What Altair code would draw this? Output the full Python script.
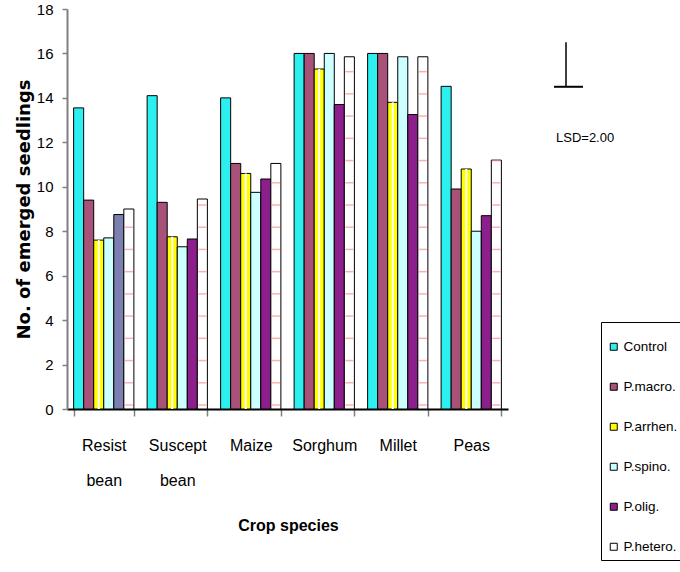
import altair as alt
import pandas as pd

# Crop species on the x axis and treatment series
crops = ["Resist bean", "Suscept bean", "Maize", "Sorghum", "Millet", "Peas"]
series = ["Control", "P.macro.", "P.arrhen.", "P.spino.", "P.olig.", "P.hetero."]

# Mean number of emerged seedlings per crop, one list per treatment
control = [13.55, 14.1, 14.0, 16.0, 16.0, 14.52]
p_macro = [9.4, 9.3, 11.05, 16.0, 16.0, 9.9]
p_arrhen = [7.6, 7.75, 10.6, 15.3, 13.8, 10.8]
p_spino = [7.7, 7.3, 9.75, 16.0, 15.85, 8.0]
p_olig = [8.75, 7.65, 10.35, 13.7, 13.25, 8.7]
p_hetero = [9.0, 9.45, 11.05, 15.85, 15.85, 11.2]

colors = ["#2CF0F0", "#A8527A", "#FFFF00", "#CCFFFF", "#8C1F8C", "#FFFFFF"]

# Least significant difference bar
lsd = [2.0]
lsd_base = [14.5]

FONT = "Liberation Sans Narrow, Arial Narrow, Liberation Sans, Arial, sans-serif"

rows = []
for s, vals in zip(series, [control, p_macro, p_arrhen, p_spino, p_olig, p_hetero]):
    for c, v in zip(crops, vals):
        rows.append({"crop": c, "series": s, "value": v})
df = pd.DataFrame(rows)

lsd_df = pd.DataFrame({"lsd": lsd, "base": lsd_base})

x_enc = alt.X(
    "crop:N",
    sort=crops,
    scale=alt.Scale(paddingInner=0.18, paddingOuter=0.09),
    axis=alt.Axis(
        title="Crop species",
        titleFont=FONT,
        titleFontSize=16,
        titleFontWeight="bold",
        titleColor="black",
        titleX=221,
        titleY=116,
        titleBaseline="middle",
        labelExpr="split(datum.label, ' ')",
        labelFont=FONT,
        labelFontSize=16,
        labelColor="black",
        labelLineHeight=35,
        labelBaseline="top",
        labelPadding=21,
        labelAngle=0,
        tickBand="extent",
        tickSize=7,
        tickColor="#808080",
        tickWidth=1.5,
        domainColor="black",
        domainWidth=2,
    ),
)

y_scale = alt.Scale(domain=[0, 18], nice=False)

bars = alt.Chart(df).mark_bar(stroke="black", strokeWidth=1).encode(
    x=x_enc,
    xOffset=alt.XOffset("series:N", sort=series, scale=alt.Scale(paddingInner=0, paddingOuter=0)),
    y=alt.Y(
        "value:Q",
        scale=y_scale,
        axis=alt.Axis(
            title="No. of emerged seedlings",
            titleFont="DejaVu Sans",
            titleFontSize=18,
            titleFontWeight="bold",
            titleColor="black",
            titleX=-43,
            titleY=200,
            titleBaseline="middle",
            values=list(range(0, 19, 2)),
            labelFont=FONT,
            labelFontSize=15,
            labelColor="black",
            labelPadding=9,
            tickSize=5,
            tickColor="#808080",
            tickWidth=1.5,
            domainColor="#808080",
            domainWidth=2,
            grid=False,
        ),
    ),
    color=alt.condition(
        "datum.crop === 'Resist bean' && datum.series === 'P.olig.'",
        alt.value("#7C80B0"),
        alt.Color(
            "series:N",
            sort=series,
            scale=alt.Scale(domain=series, range=colors),
            legend=alt.Legend(
                orient="none",
                legendX=534,
                legendY=313,
                title=" ",
                titleFontSize=2,
                titlePadding=10,
                padding=6,
                strokeColor="black",
                symbolType="square",
                symbolSize=49,
                symbolStrokeColor="black",
                symbolStrokeWidth=1,
                labelFont=FONT,
                labelFontSize=13.5,
                labelColor="black",
                labelOffset=3,
                rowPadding=25,
            ),
        ),
    ),
)

# White centre stripe inside the P.arrhen. bars
arrhen_stripe = (
    alt.Chart(df)
    .transform_filter("datum.series === 'P.arrhen.'")
    .mark_bar(width=2, color="white")
    .encode(
        x=alt.X("crop:N", sort=crops),
        xOffset=alt.XOffset("series:N", sort=series),
        y=alt.Y("value:Q", scale=y_scale),
    )
)

# Pink cross lines inside the P.hetero. bars
stripes = (
    alt.Chart(df)
    .transform_filter("datum.series === 'P.hetero.'")
    .transform_calculate(stripe="sequence(0.18, datum.value, 1)")
    .transform_flatten(["stripe"])
    .mark_tick(orient="horizontal", size=8, thickness=1.5, color="#FF8C8C")
    .encode(
        x=alt.X("crop:N", sort=crops),
        xOffset=alt.XOffset("series:N", sort=series),
        y=alt.Y("stripe:Q", scale=y_scale),
    )
)

lsd_vert = alt.Chart(lsd_df).transform_calculate(top="datum.base + datum.lsd").mark_rule(
    color="black", strokeWidth=1.5
).encode(
    x=alt.value(499),
    y=alt.Y("base:Q", scale=y_scale),
    y2="top:Q",
)

lsd_horiz = alt.Chart(lsd_df).mark_rule(color="black", strokeWidth=2).encode(
    x=alt.value(487),
    x2=alt.value(516),
    y=alt.Y("base:Q", scale=y_scale),
)

lsd_text = alt.Chart(lsd_df).transform_calculate(
    label="'LSD=' + format(datum.lsd, '.2f')"
).mark_text(
    align="left", baseline="middle", font=FONT, fontSize=13, color="black"
).encode(
    x=alt.value(489),
    y=alt.value(129),
    text="label:N",
)

chart = (
    alt.layer(bars, arrhen_stripe, stripes, lsd_vert, lsd_horiz, lsd_text)
    .properties(
        width=441,
        height=400,
        autosize=alt.AutoSizeParams(type="none"),
        padding={"left": 67, "top": 9, "right": 172, "bottom": 163},
        background="white",
    )
    .configure_view(stroke=None)
)

chart.save("out.html", embed_options={"renderer": "svg", "actions": False})
